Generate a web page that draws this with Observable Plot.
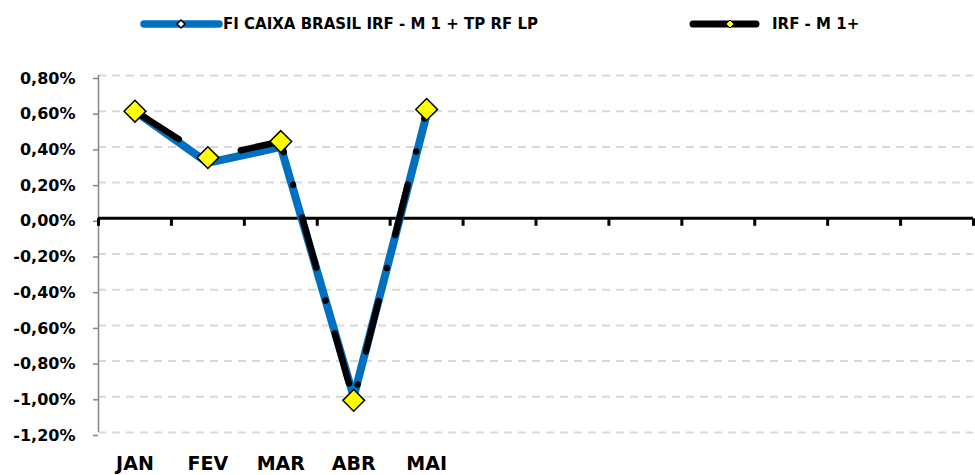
<!DOCTYPE html>
<html>
<head>
<meta charset="utf-8">
<script src="https://cdn.jsdelivr.net/npm/d3@7"></script>
<script src="https://cdn.jsdelivr.net/npm/@observablehq/plot@0.6"></script>
<style>
  html, body { margin: 0; padding: 0; background: #fff; }
  #chart { width: 975px; }
  svg { display: block; }
</style>
</head>
<body>
<div id="chart"></div>
<script>
// ---- data ----
const months = ["JAN", "FEV", "MAR", "ABR", "MAI"];
const fundo = [0.60, 0.31, 0.40, -1.00, 0.58];   // FI CAIXA BRASIL IRF - M 1 + TP RF LP (%)
const irf = [0.60, 0.34, 0.43, -1.02, 0.61];     // IRF - M 1+ (%)
const yTicks = [0.8, 0.6, 0.4, 0.2, 0.0, -0.2, -0.4, -0.6, -0.8, -1.0, -1.2];
const slotCount = 12;   // category slots on the axis (year)
const seriesNames = ["FI CAIXA BRASIL IRF - M 1 + TP RF LP", "IRF - M 1+"];

const FONT = "'DejaVu Sans', sans-serif";
const BLUE = "#0070C0";

const rowsF = months.map((m, i) => ({i, m, v: fundo[i]}));
const rowsI = months.map((m, i) => ({i, m, v: irf[i]}));
const boundaries = d3.range(slotCount + 1);

const fmt = d => d.toFixed(2).replace(".", ",") + "%";

// ---- legend (above the plot) ----
const legend = d3.select("#chart").append("svg")
  .attr("width", 975).attr("height", 48)
  .style("font-family", FONT);

function diamondPath(cx, cy, r) {
  return `M${cx},${cy - r}L${cx + r},${cy}L${cx},${cy + r}L${cx - r},${cy}Z`;
}
legend.append("line").attr("x1", 144).attr("x2", 219).attr("y1", 24).attr("y2", 24)
  .attr("stroke", BLUE).attr("stroke-width", 7.5).attr("stroke-linecap", "round");
legend.append("path").attr("d", diamondPath(181, 24, 4))
  .attr("fill", "white").attr("stroke", "black").attr("stroke-width", 1.5);
legend.append("text").attr("x", 223).attr("y", 28.5)
  .attr("font-size", 15).attr("font-weight", "bold").text(seriesNames[0]);

legend.append("line").attr("x1", 693).attr("x2", 756).attr("y1", 24).attr("y2", 24)
  .attr("stroke", "black").attr("stroke-width", 7).attr("stroke-linecap", "round");
legend.append("path").attr("d", diamondPath(730, 24, 4))
  .attr("fill", "#FFFF00").attr("stroke", "black").attr("stroke-width", 1);
legend.append("text").attr("x", 772).attr("y", 28.5)
  .attr("font-size", 15).attr("font-weight", "bold").text(seriesNames[1]);

// tick mark symbol hanging below the zero line
const tickDown = {draw(ctx, size) { ctx.moveTo(0, 0); ctx.lineTo(0, 7.5); }};

const plot = Plot.plot({
  width: 975,
  height: 427,
  marginTop: 27,
  marginBottom: 43,
  marginLeft: 98,
  marginRight: 2,
  style: {fontFamily: FONT, background: "white"},
  x: {domain: [0, slotCount], axis: null},
  y: {domain: [-1.2, 0.8], axis: null},
  marks: [
    Plot.ruleY(yTicks.filter(d => d !== 0), {stroke: "#d9d9d9", strokeWidth: 2, strokeDasharray: "8,6"}),
    Plot.ruleX([0], {y1: -1.2, y2: 0.8, stroke: "#868686", strokeWidth: 1.5}),
    Plot.axisY(yTicks, {
      anchor: "left", label: null, tickSize: 5, tickPadding: 18, stroke: "#868686", strokeWidth: 1.5,
      fill: "black", fontSize: 16, fontWeight: "bold", tickFormat: fmt, dy: 3
    }),
    Plot.ruleY([0], {stroke: "black", strokeWidth: 3}),
    Plot.dot(boundaries, {x: d => d, y: () => 0, symbol: tickDown, fill: "none", stroke: "black", strokeWidth: 3, r: 1}),
    Plot.line(rowsF, {x: d => d.i + 0.5, y: "v", stroke: BLUE, strokeWidth: 8, strokeLinejoin: "round"}),
    Plot.line(rowsI, {x: d => d.i + 0.5, y: "v", stroke: "black", strokeWidth: 6.5,
      strokeDasharray: "52,34,0.1,34", strokeLinecap: "round", strokeLinejoin: "round"}),
    Plot.dot(rowsI, {x: d => d.i + 0.5, y: "v", symbol: "diamond2", r: 9.8, fill: "#FFFF00", stroke: "black", strokeWidth: 1.5}),
    Plot.text(rowsI, {x: d => d.i + 0.5, frameAnchor: "bottom", text: "m", lineAnchor: "bottom",
      dy: 37, fontSize: 19, fontWeight: "bold", fill: "black"})
  ]
});
document.getElementById("chart").appendChild(plot);
</script>
</body>
</html>
